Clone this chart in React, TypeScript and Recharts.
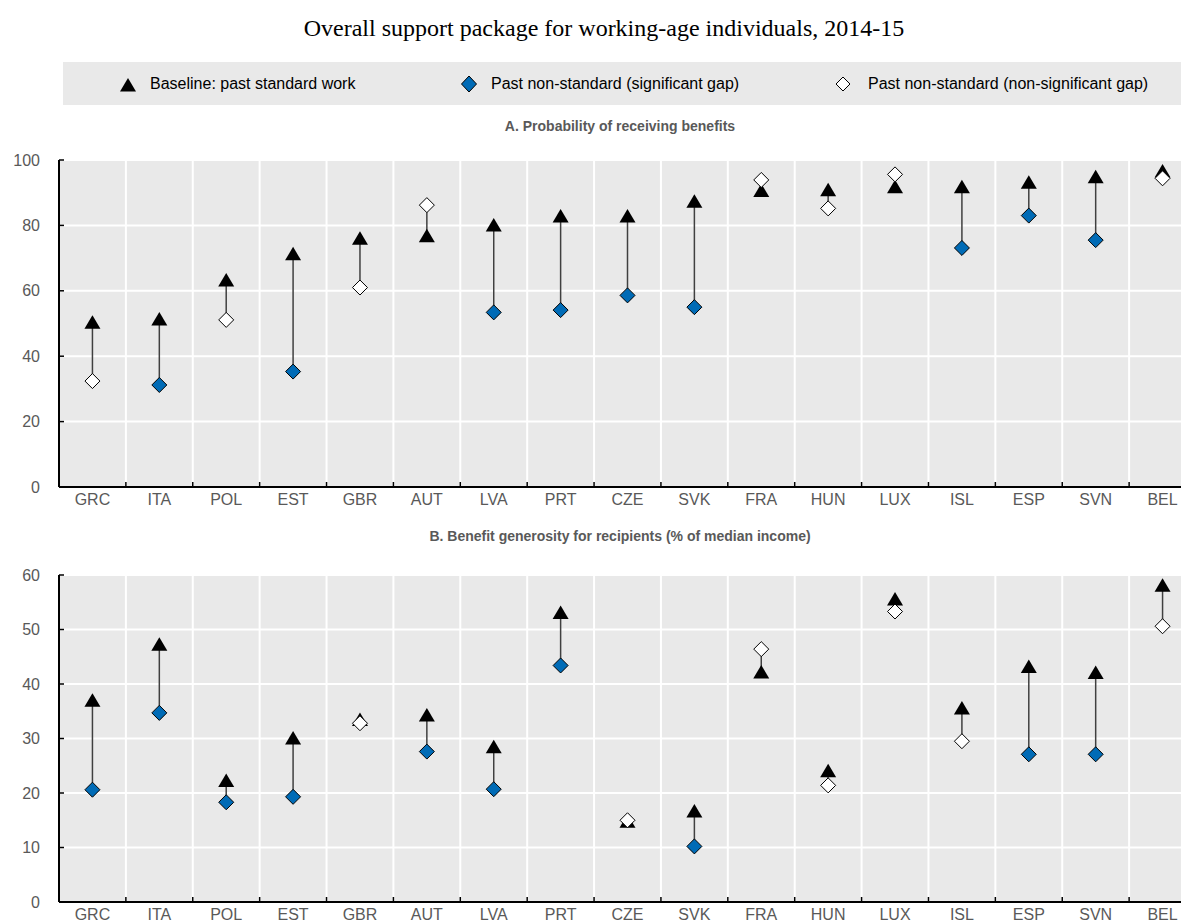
import React from "react";
import { ComposedChart, Scatter, XAxis, YAxis, CartesianGrid, ErrorBar } from "recharts";

const countries = ["GRC", "ITA", "POL", "EST", "GBR", "AUT", "LVA", "PRT", "CZE", "SVK", "FRA", "HUN", "LUX", "ISL", "ESP", "SVN", "BEL"];

// A. Probability of receiving benefits (%)
const probBaseline = [50.4, 51.4, 63.3, 71.3, 76.1, 76.8, 80.1, 82.9, 82.9, 87.4, 90.7, 90.9, 91.8, 91.8, 93.2, 94.9, 96.6];
const probNonStandard = [32.4, 31.2, 51.1, 35.3, 61.0, 86.2, 53.4, 54.1, 58.6, 55.0, 93.9, 85.2, 95.6, 73.1, 83.0, 75.5, 94.4];
const probSignificant = [0, 1, 0, 1, 0, 0, 1, 1, 1, 1, 0, 0, 0, 1, 1, 1, 0];
const probTicks = [0, 20, 40, 60, 80, 100];

// B. Benefit generosity (% of median income)
const genBaseline = [37.0, 47.3, 22.3, 30.1, 33.5, 34.3, 28.5, 53.1, 14.8, 16.7, 42.2, 24.1, 55.6, 35.6, 43.2, 42.1, 58.1];
const genNonStandard = [20.6, 34.7, 18.3, 19.3, 32.8, 27.6, 20.7, 43.4, 15.0, 10.2, 46.4, 21.4, 53.3, 29.5, 27.1, 27.1, 50.6];
const genSignificant = [1, 1, 1, 1, 0, 1, 1, 1, 0, 1, 0, 0, 0, 0, 1, 1, 0];
const genTicks = [0, 10, 20, 30, 40, 50, 60];

const FONT = "Arial, 'Liberation Sans', sans-serif";
const BLUE = "#006bb6";
const BG = "#e9e9e9";
const GREY_TEXT = "#595959";

const labelTicks = countries.map((_, i) => i);
const gridTicks = countries.map((_, i) => i - 0.5).concat([countries.length - 0.5]);
const xDomain = [-0.5, countries.length - 0.5];

const buildRows = (base: number[], other: number[], sig: number[]) =>
  countries.map((c, i) => ({
    x: i,
    base: base[i],
    other: other[i],
    sig: sig[i] === 1,
    gap: [Math.max(0, other[i] - base[i]), Math.max(0, base[i] - other[i])],
  }));

const Empty = () => <g />;

const Triangle = (props: any) => {
  const { cx, cy } = props;
  if (cx == null || cy == null) return <g />;
  return <polygon points={`${cx},${cy - 7} ${cx + 8},${cy + 6.5} ${cx - 8},${cy + 6.5}`} fill="#000" />;
};

const Diamond = (fill: string) => (props: any) => {
  const { cx, cy } = props;
  if (cx == null || cy == null) return <g />;
  return (
    <polygon
      points={`${cx},${cy - 7.5} ${cx + 7.5},${cy} ${cx},${cy + 7.5} ${cx - 7.5},${cy}`}
      fill={fill}
      stroke="#000"
      strokeWidth={1}
    />
  );
};

const Panel = ({ top, rows, ticks }: { top: number; rows: ReturnType<typeof buildRows>; ticks: number[] }) => {
  const baseData = rows.map((r) => ({ x: r.x, y: r.base }));
  const linkData = rows.map((r) => ({ x: r.x, y: r.other, gap: r.gap }));
  const sigData = rows.filter((r) => r.sig).map((r) => ({ x: r.x, y: r.other }));
  const nonSigData = rows.filter((r) => !r.sig).map((r) => ({ x: r.x, y: r.other }));
  return (
    <div style={{ position: "absolute", left: 0, top }}>
      <ComposedChart width={1216} height={377} margin={{ top: 20, right: 20, bottom: 0, left: 0 }}>
        <CartesianGrid fill={BG} fillOpacity={1} stroke="#fff" strokeWidth={2} />
        {/* band boundaries: grid lines and the small inward ticks */}
        <XAxis
          type="number"
          dataKey="x"
          domain={xDomain}
          ticks={gridTicks}
          interval={0}
          allowDataOverflow
          height={2}
          tickFormatter={() => ""}
          tickSize={-5}
          tickMargin={0}
          axisLine={{ stroke: "#000", strokeWidth: 2 }}
          tickLine={{ stroke: "#000", strokeWidth: 1.5 }}
        />
        <XAxis
          xAxisId="lab"
          type="number"
          dataKey="x"
          domain={xDomain}
          ticks={labelTicks}
          interval={0}
          allowDataOverflow
          height={28}
          axisLine={false}
          tickLine={false}
          tickSize={3}
          tickMargin={2}
          tickFormatter={(v: number) => countries[v]}
          tick={{ fill: GREY_TEXT, fontSize: 16, fontFamily: FONT }}
        />
        <YAxis
          type="number"
          domain={[ticks[0], ticks[ticks.length - 1]]}
          ticks={ticks}
          interval={0}
          allowDataOverflow
          width={59}
          tickSize={-5}
          tickMargin={24}
          axisLine={{ stroke: "#000", strokeWidth: 2 }}
          tickLine={{ stroke: "#000", strokeWidth: 1.5 }}
          tick={{ fill: GREY_TEXT, fontSize: 16, fontFamily: FONT }}
        />
        <Scatter data={baseData} dataKey="y" shape={Empty} isAnimationActive={false} />
        <Scatter xAxisId="lab" data={linkData} dataKey="y" shape={Empty} isAnimationActive={false}>
          <ErrorBar dataKey="gap" direction="y" width={0} stroke="#404040" strokeWidth={1.5} isAnimationActive={false} />
        </Scatter>
        <Scatter xAxisId="lab" data={baseData} dataKey="y" shape={Triangle} isAnimationActive={false} />
        <Scatter xAxisId="lab" data={sigData} dataKey="y" shape={Diamond(BLUE)} isAnimationActive={false} />
        <Scatter xAxisId="lab" data={nonSigData} dataKey="y" shape={Diamond("#fff")} isAnimationActive={false} />
      </ComposedChart>
    </div>
  );
};

const legendText: React.CSSProperties = {
  position: "absolute",
  top: 76,
  fontFamily: FONT,
  fontSize: 16,
  lineHeight: "16px",
  color: "#000",
  whiteSpace: "nowrap",
};

const panelTitle: React.CSSProperties = {
  position: "absolute",
  left: 0,
  width: 1240,
  textAlign: "center",
  fontFamily: FONT,
  fontSize: 14,
  lineHeight: "14px",
  fontWeight: "bold",
  color: GREY_TEXT,
};

export default function App() {
  const probRows = buildRows(probBaseline, probNonStandard, probSignificant);
  const genRows = buildRows(genBaseline, genNonStandard, genSignificant);
  return (
    <div style={{ position: "absolute", left: 0, top: 0, width: 1181, height: 924, overflow: "hidden", background: "#fff" }}>
      <div
        style={{
          position: "absolute",
          top: 16,
          left: 0,
          width: 1208,
          textAlign: "center",
          fontFamily: "'Liberation Serif', 'Times New Roman', serif",
          fontSize: 24,
          lineHeight: "24px",
          color: "#000",
        }}
      >
        Overall support package for working-age individuals, 2014-15
      </div>

      <div style={{ position: "absolute", left: 63, top: 62, width: 1140, height: 43, background: BG }} />
      <svg style={{ position: "absolute", left: 119, top: 77 }} width={18} height={16}>
        <polygon points="9,1 17,14.5 1,14.5" fill="#000" />
      </svg>
      <div style={{ ...legendText, left: 150 }}>Baseline: past standard work</div>
      <svg style={{ position: "absolute", left: 460, top: 75 }} width={18} height={18}>
        <polygon points="9,1 16.5,9 9,17 1.5,9" fill={BLUE} stroke="#000" strokeWidth={1} />
      </svg>
      <div style={{ ...legendText, left: 491 }}>Past non-standard (significant gap)</div>
      <svg style={{ position: "absolute", left: 834, top: 75 }} width={18} height={18}>
        <polygon points="9,2 16,9 9,16 2,9" fill="#fff" stroke="#000" strokeWidth={1} />
      </svg>
      <div style={{ ...legendText, left: 868 }}>Past non-standard (non-significant gap)</div>

      <div style={{ ...panelTitle, top: 119 }}>A. Probability of receiving benefits</div>
      <Panel top={140} rows={probRows} ticks={probTicks} />

      <div style={{ ...panelTitle, top: 529 }}>B. Benefit generosity for recipients (% of median income)</div>
      <Panel top={555} rows={genRows} ticks={genTicks} />
    </div>
  );
}
